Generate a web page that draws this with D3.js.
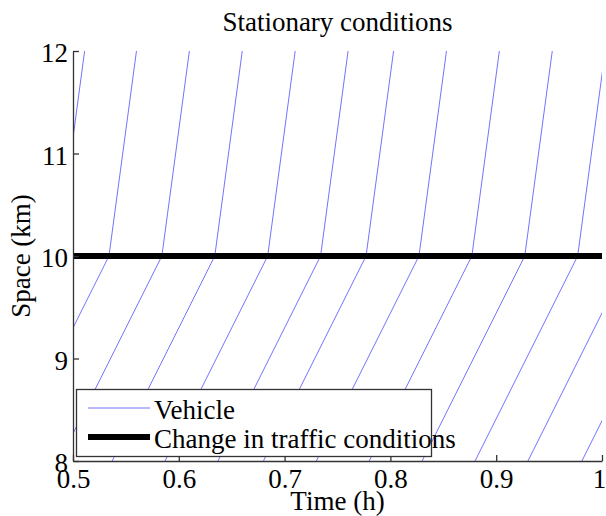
<!DOCTYPE html>
<html>
<head>
<meta charset="utf-8">
<script src="https://cdn.jsdelivr.net/npm/d3@7"></script>
<style>
  html, body { margin: 0; padding: 0; background: #fff; }
  svg { display: block; }
  text { font-family: "Liberation Serif", "Times New Roman", serif; fill: #000; }
</style>
</head>
<body>
<svg id="chart" width="606" height="516"></svg>
<script>
// Vehicle trajectories: time (h) at which each vehicle passes 8 km, 10 km and 12 km
const spacePoints = [8, 10, 12];
const timeAt8km  = [0.388, 0.437, 0.487, 0.537, 0.587, 0.637, 0.680, 0.730, 0.780, 0.830, 0.880, 0.930, 0.981];
const timeAt10km = [0.485, 0.534, 0.584, 0.634, 0.684, 0.734, 0.777, 0.827, 0.877, 0.927, 0.977, 1.027, 1.078];
const timeAt12km = [0.511, 0.560, 0.610, 0.660, 0.710, 0.760, 0.803, 0.853, 0.903, 0.953, 1.003, 1.053, 1.104];

// Location where traffic conditions change
const changeSpace = 10;
const changeTime = [0.5, 1];

const xTicks = [0.5, 0.6, 0.7, 0.8, 0.9, 1];
const xTickLabels = ["0.5", "0.6", "0.7", "0.8", "0.9", "1"];
const yTicks = [8, 9, 10, 11, 12];
const yTickLabels = ["8", "9", "10", "11", "12"];

const titleText = "Stationary conditions";
const xLabel = "Time (h)";
const yLabel = "Space (km)";
const legendLabels = ["Vehicle", "Change in traffic conditions"];

const svg = d3.select("#chart");
const plotLeft = 73, plotRight = 602, plotTop = 51, plotBottom = 461;
const fontSize = 27;
const vehicleColor = "#7373ff";

const x = d3.scaleLinear().domain([0.5, 1]).range([plotLeft, plotRight]);
const y = d3.scaleLinear().domain([8, 12]).range([plotBottom, plotTop]);

svg.append("defs").append("clipPath").attr("id", "plotClip")
  .append("rect")
  .attr("x", plotLeft).attr("y", plotTop)
  .attr("width", plotRight - plotLeft).attr("height", plotBottom - plotTop);

const vehicles = timeAt10km.map((t, i) => [
  [timeAt8km[i], spacePoints[0]],
  [timeAt10km[i], spacePoints[1]],
  [timeAt12km[i], spacePoints[2]]
]);

const line = d3.line().x(d => x(d[0])).y(d => y(d[1]));

const plot = svg.append("g").attr("clip-path", "url(#plotClip)");

plot.selectAll("path.vehicle")
  .data(vehicles)
  .join("path")
  .attr("class", "vehicle")
  .attr("d", line)
  .attr("fill", "none")
  .attr("stroke", vehicleColor)
  .attr("stroke-width", 1);

plot.append("path")
  .attr("d", line(changeTime.map(t => [t, changeSpace])))
  .attr("stroke", "#000")
  .attr("stroke-width", 6)
  .attr("fill", "none");

// Axes with inward ticks
const axisColor = "#333";
const xAxis = svg.append("g")
  .attr("transform", `translate(0,${plotBottom})`)
  .call(d3.axisBottom(x).tickValues(xTicks)
    .tickFormat((d, i) => xTickLabels[i])
    .tickSizeInner(-6).tickSizeOuter(0).tickPadding(8));

const yAxis = svg.append("g")
  .attr("transform", `translate(${plotLeft},0)`)
  .call(d3.axisLeft(y).tickValues(yTicks)
    .tickFormat((d, i) => yTickLabels[i])
    .tickSizeInner(-6).tickSizeOuter(0).tickPadding(5));

[xAxis, yAxis].forEach(g => {
  g.select(".domain").attr("stroke", axisColor).attr("stroke-width", 1.3);
  g.selectAll(".tick line").attr("stroke", axisColor).attr("stroke-width", 1.3);
  g.selectAll(".tick text")
    .attr("font-family", "Liberation Serif, Times New Roman, serif")
    .attr("font-size", fontSize).attr("fill", "#000");
});
yAxis.selectAll(".tick text").attr("dy", "0.39em");
// keep the last time label inside the page edge
xAxis.selectAll(".tick text").filter((d, i) => i === xTicks.length - 1).attr("dx", -3);

// Title and axis labels
svg.append("text")
  .attr("x", (plotLeft + plotRight) / 2).attr("y", 31)
  .attr("text-anchor", "middle")
  .attr("font-size", fontSize)
  .text(titleText);

svg.append("text")
  .attr("x", (plotLeft + plotRight) / 2).attr("y", 510)
  .attr("text-anchor", "middle")
  .attr("font-size", fontSize)
  .text(xLabel);

svg.append("text")
  .attr("transform", `translate(30,${(plotTop + plotBottom) / 2}) rotate(-90)`)
  .attr("text-anchor", "middle")
  .attr("font-size", fontSize)
  .text(yLabel);

// Legend
const legend = svg.append("g");
legend.append("rect")
  .attr("x", 76.5).attr("y", 389.5)
  .attr("width", 355).attr("height", 67)
  .attr("fill", "#fff")
  .attr("stroke", axisColor).attr("stroke-width", 1.3);

const legendItems = [
  { label: legendLabels[0], color: vehicleColor, width: 1, yPos: 408 },
  { label: legendLabels[1], color: "#000", width: 6, yPos: 437 }
];
legendItems.forEach(item => {
  legend.append("line")
    .attr("x1", 88).attr("x2", 150)
    .attr("y1", item.yPos).attr("y2", item.yPos)
    .attr("stroke", item.color).attr("stroke-width", item.width);
  legend.append("text")
    .attr("x", 154).attr("y", item.yPos + 11)
    .attr("font-size", fontSize)
    .text(item.label);
});
</script>
</body>
</html>
